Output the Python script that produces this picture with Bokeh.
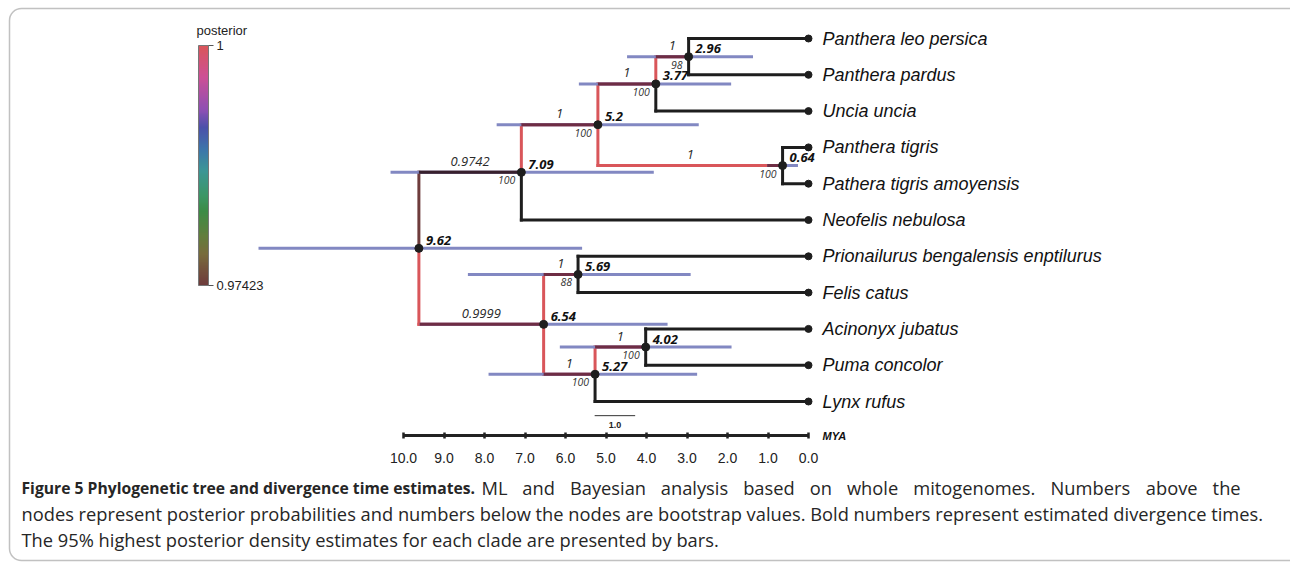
import numpy as np
from bokeh.plotting import figure
from bokeh.models import (Range1d, LinearAxis, FixedTicker, ColumnDataSource,
                          LinearColorMapper, ColorBar, Label, BoxAnnotation,
                          PrintfTickFormatter, CustomJSTickFormatter)
from bokeh.core.properties import value
from bokeh.embed import file_html
from bokeh.resources import INLINE

# ---------------- data ----------------
taxa = ["Panthera leo persica", "Panthera pardus", "Uncia uncia", "Panthera tigris",
        "Pathera tigris amoyensis", "Neofelis nebulosa",
        "Prionailurus bengalensis enptilurus", "Felis catus", "Acinonyx jubatus",
        "Puma concolor", "Lynx rufus"]
tip_parent = [4, 4, 3, 5, 5, 1, 7, 7, 9, 9, 8]

node_age = [9.62, 7.09, 5.20, 3.77, 2.96, 0.64, 6.54, 5.69, 5.27, 4.02]
node_age_label = ["9.62", "7.09", "5.2", "3.77", "2.96", "0.64", "6.54", "5.69", "5.27", "4.02"]
node_parent = [-1, 0, 1, 2, 3, 2, 0, 6, 6, 8]
node_posterior = [1.0, 0.9742, 1, 1, 1, 1, 0.9999, 1, 1, 1]
node_posterior_label = ["", "0.9742", "1", "1", "1", "1", "0.9999", "1", "1", "1"]
node_bootstrap = ["", "100", "100", "100", "98", "100", "", "88", "100", "100"]
hpd_old = [13.58, 10.32, 7.70, 5.67, 4.48, 1.02, 9.60, 8.41, 7.90, 6.14]
hpd_young = [5.59, 3.82, 2.71, 1.91, 1.37, 0.26, 3.48, 2.91, 2.75, 1.90]

axis_ticks = [10, 9, 8, 7, 6, 5, 4, 3, 2, 1, 0]
axis_tick_labels = ["10.0", "9.0", "8.0", "7.0", "6.0", "5.0", "4.0", "3.0", "2.0", "1.0", "0.0"]
axis_unit = "MYA"
posterior_low = 0.97423
posterior_high = 1.0
colorbar_title = "posterior"
scale_bar_start = 5.28
scale_bar_length = 1.0
scale_bar_label = "1.0"

caption_title = "Figure 5 Phylogenetic tree and divergence time estimates."
caption_lines = [
    "ML and Bayesian analysis based on whole mitogenomes. Numbers above the",
    "nodes represent posterior probabilities and numbers below the nodes are bootstrap values. Bold numbers represent estimated divergence times.",
    "The 95% highest posterior density estimates for each clade are presented by bars.",
]

# ---------------- styling / layout ----------------
W, H = 1290, 562
PX_PER_MYA = 40.5
X_ZERO = 808.0      # canvas x of 0 MYA
ROW0 = 38.0         # canvas y of first tip row
ROW_H = 36.3
AXIS_ROW = 10.937
SCALE_ROW = 10.39

cbar_stops = [0.0, 0.06, 0.13, 0.20, 0.31, 0.37, 0.48, 0.56, 0.66, 0.73, 0.87, 1.0]
cbar_rgb = [(110, 60, 60), (115, 80, 60), (120, 108, 60), (100, 125, 60), (60, 140, 70),
            (60, 150, 100), (60, 150, 150), (60, 120, 170), (75, 80, 170), (140, 80, 180),
            (205, 80, 150), (217, 86, 90)]
tt = np.linspace(0, 1, 256)
chan = [np.interp(tt, cbar_stops, [c[k] for c in cbar_rgb]) for k in range(3)]
palette = ["#%02x%02x%02x" % (int(round(r)), int(round(g)), int(round(b)))
           for r, g, b in zip(*chan)]
BAR_RGB = (130, 136, 194)
BAR_COLOR = "#%02x%02x%02x" % BAR_RGB
BLACK = "#1e1e1e"


def post_rgb(v):
    idx = int((v - posterior_low) / (posterior_high - posterior_low) * 256)
    idx = max(0, min(255, idx))
    h = palette[idx]
    return tuple(int(h[i:i + 2], 16) for i in (1, 3, 5))


def hexc(rgb):
    return "#%02x%02x%02x" % tuple(int(c) for c in rgb)


# ---------------- tree layout ----------------
n_nodes = len(node_age)
kids = [[] for _ in range(n_nodes)]
for t, par in enumerate(tip_parent):
    kids[par].append(("tip", t))
for n, par in enumerate(node_parent):
    if par >= 0:
        kids[par].append(("node", n))
node_y = [None] * n_nodes


def ypos(kind, i):
    if kind == "tip":
        return float(i)
    if node_y[i] is None:
        ys = [ypos(k, j) for k, j in kids[i]]
        node_y[i] = (min(ys) + max(ys)) / 2.0
    return node_y[i]


for n in range(n_nodes):
    ypos("node", n)

seg = dict(x0=[], y0=[], x1=[], y1=[], c=[])
for t, par in enumerate(tip_parent):
    seg["x0"] += [node_age[par], node_age[par]]
    seg["y0"] += [node_y[par], float(t)]
    seg["x1"] += [node_age[par], 0.0]
    seg["y1"] += [float(t), float(t)]
    seg["c"] += [BLACK, BLACK]
ov = dict(x0=[], x1=[], y=[], c=[])
for n, par in enumerate(node_parent):
    if par < 0:
        continue
    col = post_rgb(node_posterior[n])
    seg["x0"] += [node_age[par], node_age[par]]
    seg["y0"] += [node_y[par], node_y[n]]
    seg["x1"] += [node_age[par], node_age[n]]
    seg["y1"] += [node_y[n], node_y[n]]
    seg["c"] += [hexc(col), hexc(col)]
    hi = min(hpd_old[n], node_age[par])
    if hi > node_age[n]:
        ov["x0"].append(hi)
        ov["x1"].append(node_age[n])
        ov["y"].append(node_y[n])
        ov["c"].append(hexc([a * b / 255.0 for a, b in zip(col, BAR_RGB)]))

# ---------------- figure ----------------
p = figure(width=W, height=H,
           x_range=Range1d(X_ZERO / PX_PER_MYA, -(W - X_ZERO) / PX_PER_MYA),
           y_range=Range1d((H - ROW0) / ROW_H, -ROW0 / ROW_H),
           output_backend="svg", toolbar_location=None,
           x_axis_type=None, y_axis_type=None, min_border=0,
           outline_line_color=None, background_fill_color="white")

# branches
p.segment("x0", "y0", "x1", "y1", source=ColumnDataSource(seg), line_color="c",
          line_width=3, line_cap="square")
# HPD bars
p.segment(x0=hpd_old, y0=node_y, x1=hpd_young, y1=node_y, line_color=BAR_COLOR,
          line_width=3)
p.segment("x0", "y", "x1", "y", source=ColumnDataSource(ov), line_color="c", line_width=3)
# nodes and tips
p.scatter(node_age, node_y, size=8, color=BLACK)
p.scatter([0.0] * len(taxa), list(range(len(taxa))), size=7, color=BLACK)

# tip labels
p.text([0.0] * len(taxa), list(range(len(taxa))), text=taxa, x_offset=14,
       text_baseline="middle", text_align="left", text_font=value("Liberation Sans"),
       text_font_style="italic", text_font_size="18px", text_color="#111111")

# posterior labels (above branch midpoints)
mid_x, mid_y, mid_t = [], [], []
for n, par in enumerate(node_parent):
    if par >= 0 and node_posterior_label[n]:
        mid_x.append((node_age[par] + node_age[n]) / 2.0)
        mid_y.append(node_y[n])
        mid_t.append(node_posterior_label[n])
p.text(mid_x, mid_y, text=mid_t, y_offset=-11, text_align="center", text_baseline="middle",
       text_font=value("Open Sans"), text_font_style="italic", text_font_size="13px",
       text_color="#2a2a2a")

# divergence times
p.text(node_age, node_y, text=node_age_label, x_offset=7, y_offset=-8, text_align="left",
       text_baseline="middle", text_font=value("Open Sans"), text_font_style="bold italic",
       text_font_size="13px", text_color="#111111")

# bootstrap
bx = [a for a, b in zip(node_age, node_bootstrap) if b]
by = [y for y, b in zip(node_y, node_bootstrap) if b]
bt = [b for b in node_bootstrap if b]
p.text(bx, by, text=bt, x_offset=-6, y_offset=8, text_align="right", text_baseline="middle",
       text_font=value("Open Sans"), text_font_style="italic", text_font_size="10.5px",
       text_color="#333333")

# scale bar
p.segment(x0=[scale_bar_start], y0=[SCALE_ROW], x1=[scale_bar_start - scale_bar_length],
          y1=[SCALE_ROW], line_color="#333333", line_width=1)
p.text([scale_bar_start - scale_bar_length / 2.0], [SCALE_ROW], text=[scale_bar_label],
       y_offset=9, text_align="center", text_baseline="middle",
       text_font=value("Liberation Sans"), text_font_style="bold", text_font_size="9px",
       text_color="#222222")

# time axis
ax = LinearAxis(fixed_location=AXIS_ROW, bounds=(min(axis_ticks), max(axis_ticks)),
                ticker=FixedTicker(ticks=axis_ticks, minor_ticks=[]),
                formatter=PrintfTickFormatter(format="%.1f"),
                major_label_overrides={t: l for t, l in zip(axis_ticks, axis_tick_labels)},
                axis_line_width=3, axis_line_color="#222222",
                major_tick_in=3, major_tick_out=3, major_tick_line_width=2.5,
                major_tick_line_color="#222222", minor_tick_line_color=None,
                major_label_standoff=14, major_label_text_font="Liberation Sans",
                major_label_text_font_size="14px", major_label_text_color="#222222")
p.add_layout(ax, "below")
p.text([0.0], [AXIS_ROW], text=[axis_unit], x_offset=14, text_baseline="middle",
       text_font=value("Liberation Sans"), text_font_style="bold italic",
       text_font_size="11px", text_color="#111111")

# colour bar
mapper = LinearColorMapper(palette=palette, low=posterior_low, high=posterior_high,
                           low_color=palette[0], high_color=palette[-1])
cb = ColorBar(color_mapper=mapper, ticker=FixedTicker(ticks=[posterior_low, posterior_high]),
              formatter=CustomJSTickFormatter(code="return tick >= 1 ? '1' : tick.toFixed(5)"),
              width=10, height=240, orientation="vertical",
              major_label_text_font="Liberation Sans", major_label_text_font_size="13px",
              major_label_text_color="#222222", label_standoff=3,
              major_tick_in=0, major_tick_out=5, major_tick_line_color="#555555",
              minor_tick_line_color=None,
              bar_line_color="#777777", padding=0, margin=0, location=(198, H - 285),
              background_fill_alpha=0, border_line_color=None)
p.add_layout(cb, "center")
p.add_layout(Label(x=196, y=H - 30, x_units="screen", y_units="screen", text=colorbar_title,
                   text_font="Liberation Sans", text_font_size="13px",
                   text_baseline="middle", text_color="#222222"))

# ---------------- caption ----------------
CAP_FONT = "Open Sans"
CAP_SIZE = "18.3px"
CAP_COLOR = "#262626"
p.add_layout(Label(x=21, y=H - 487, x_units="screen", y_units="screen", text=caption_title,
                   text_font=CAP_FONT, text_font_style="bold", text_font_size="15.7px",
                   text_baseline="middle", text_color=CAP_COLOR))

# first line is justified between x=481 and x=1240 (word advances approximated
# from Open Sans metrics, calibrated to the rendered natural width)
OS_ADV = {"M": 1823, "L": 1075, "B": 1300, "N": 1624, "a": 1139, "b": 1255, "c": 975,
          "d": 1255, "e": 1149, "g": 1122, "h": 1257, "i": 518, "l": 518, "m": 1905,
          "n": 1257, "o": 1237, "r": 836, "s": 977, "t": 723, "u": 1257, "v": 1026,
          "w": 1593, "y": 1028, ".": 545}
OS_SPACE = 532
words = caption_lines[0].split(" ")
adv = [sum(OS_ADV.get(ch, 1150) for ch in w_) for w_ in words]
natural = sum(adv) + OS_SPACE * (len(words) - 1)
k = 656.0 / natural
J_LEFT, J_RIGHT = 481.0, 1240.0
gap = (J_RIGHT - J_LEFT - k * sum(adv)) / (len(words) - 1)
xw = J_LEFT
for w_, a_ in zip(words, adv):
    p.add_layout(Label(x=xw, y=H - 487, x_units="screen", y_units="screen", text=w_,
                       text_font=CAP_FONT, text_font_size=CAP_SIZE,
                       text_baseline="middle", text_color=CAP_COLOR))
    xw += k * a_ + gap
for i, line in enumerate(caption_lines[1:]):
    p.add_layout(Label(x=21, y=H - 513 - 26 * i, x_units="screen", y_units="screen", text=line,
                       text_font=CAP_FONT, text_font_size=CAP_SIZE,
                       text_baseline="middle", text_color=CAP_COLOR))

# rounded frame
p.add_layout(BoxAnnotation(left=9, right=W + 30, top=H - 8, bottom=2,
                           left_units="screen", right_units="screen",
                           top_units="screen", bottom_units="screen",
                           fill_alpha=0, line_color="#333333", line_width=1.5,
                           border_radius=12))

open("out.html", "w").write(file_html(p, INLINE))
